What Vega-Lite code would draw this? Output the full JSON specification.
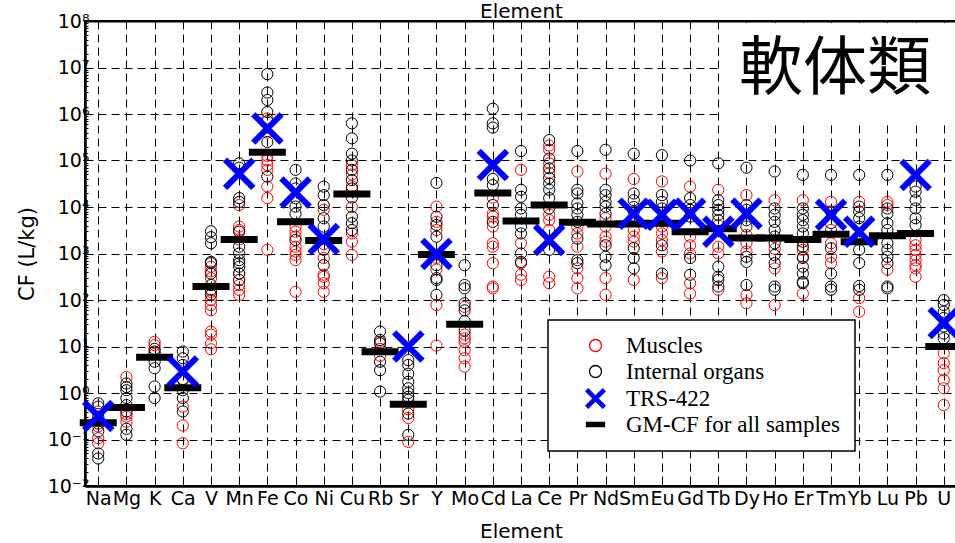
{
  "$schema": "https://vega.github.io/schema/vega-lite/v6.json",
  "width": 872,
  "height": 465,
  "autosize": {"type": "none"},
  "padding": {"left": 85, "top": 21, "right": 0, "bottom": 57},
  "background": "white",
  "config": {
    "view": {"stroke": "black", "strokeWidth": 2},
    "font": "DejaVu Sans",
    "axis": {"labelFont": "DejaVu Sans", "titleFont": "DejaVu Sans", "labelColor": "black", "titleColor": "black", "tickColor": "black", "domainColor": "black"},
    "legend": {
      "orient": "none", "legendX": 463, "legendY": 299,
      "strokeColor": "black", "fillColor": "white", "strokeWidth": 1.5,
      "padding": 14, "labelFont": "Liberation Serif", "labelFontSize": 23, "labelColor": "black",
      "symbolSize": 144, "symbolStrokeWidth": 1.3, "rowPadding": 2, "labelOffset": 19, "symbolOffset": 22, "labelLimit": 400
    }
  },
  "datasets": {
    "box": [{"a": "Tb", "b": "U", "lo": 640000, "hi": 100000000}],
    "ann": [{"e": "Tm", "v": 9000000, "t": "軟体類"}],
    "pts": [
      {"e":"Na","s":"M","v":0.19},{"e":"Na","s":"M","v":0.107},{"e":"Na","s":"M","v":0.083},{"e":"Na","s":"M","v":0.25},{"e":"Na","s":"M","v":0.4},
      {"e":"Na","s":"O","v":0.6},{"e":"Na","s":"O","v":0.51},{"e":"Na","s":"O","v":0.31},{"e":"Na","s":"O","v":0.15},{"e":"Na","s":"O","v":0.05},{"e":"Na","s":"O","v":0.039},{"e":"Na","s":"O","v":0.22},
      {"e":"Mg","s":"M","v":2.2},{"e":"Mg","s":"M","v":0.31},{"e":"Mg","s":"M","v":0.24},{"e":"Mg","s":"M","v":0.35},
      {"e":"Mg","s":"O","v":1.6},{"e":"Mg","s":"O","v":1.15},{"e":"Mg","s":"O","v":0.78},{"e":"Mg","s":"O","v":0.55},{"e":"Mg","s":"O","v":0.4},{"e":"Mg","s":"O","v":0.17},{"e":"Mg","s":"O","v":0.126},{"e":"Mg","s":"O","v":1.35},
      {"e":"K","s":"M","v":12.6},{"e":"K","s":"M","v":10.7},{"e":"K","s":"M","v":7},
      {"e":"K","s":"O","v":8.9},{"e":"K","s":"O","v":7.8},{"e":"K","s":"O","v":4.7},{"e":"K","s":"O","v":3.4},{"e":"K","s":"O","v":1.38},{"e":"K","s":"O","v":0.78},
      {"e":"Ca","s":"M","v":1.9},{"e":"Ca","s":"M","v":0.51},{"e":"Ca","s":"M","v":0.2},{"e":"Ca","s":"M","v":0.083},
      {"e":"Ca","s":"O","v":7.8},{"e":"Ca","s":"O","v":5.6},{"e":"Ca","s":"O","v":4},{"e":"Ca","s":"O","v":1.15},{"e":"Ca","s":"O","v":0.78},{"e":"Ca","s":"O","v":0.4},{"e":"Ca","s":"O","v":2},
      {"e":"V","s":"M","v":520},{"e":"V","s":"M","v":410},{"e":"V","s":"M","v":295},{"e":"V","s":"M","v":150},{"e":"V","s":"M","v":100},{"e":"V","s":"M","v":78},{"e":"V","s":"M","v":60},{"e":"V","s":"M","v":21},{"e":"V","s":"M","v":18},{"e":"V","s":"M","v":11.7},{"e":"V","s":"M","v":8.7},
      {"e":"V","s":"O","v":3000},{"e":"V","s":"O","v":2240},{"e":"V","s":"O","v":1660},{"e":"V","s":"O","v":660},{"e":"V","s":"O","v":620},{"e":"V","s":"O","v":370},{"e":"V","s":"O","v":210},{"e":"V","s":"O","v":166},{"e":"V","s":"O","v":129},
      {"e":"Mn","s":"M","v":11000},{"e":"Mn","s":"M","v":3800},{"e":"Mn","s":"M","v":3200},{"e":"Mn","s":"M","v":370},{"e":"Mn","s":"M","v":210},{"e":"Mn","s":"M","v":166},{"e":"Mn","s":"M","v":129},{"e":"Mn","s":"M","v":2000},
      {"e":"Mn","s":"O","v":87000},{"e":"Mn","s":"O","v":70000},{"e":"Mn","s":"O","v":15500},{"e":"Mn","s":"O","v":12900},{"e":"Mn","s":"O","v":2950},{"e":"Mn","s":"O","v":1400},{"e":"Mn","s":"O","v":1000},{"e":"Mn","s":"O","v":720},{"e":"Mn","s":"O","v":520},{"e":"Mn","s":"O","v":370},{"e":"Mn","s":"O","v":270},{"e":"Mn","s":"O","v":620},
      {"e":"Fe","s":"M","v":800000},{"e":"Fe","s":"M","v":400000},{"e":"Fe","s":"M","v":100000},{"e":"Fe","s":"M","v":80000},{"e":"Fe","s":"M","v":63000},{"e":"Fe","s":"M","v":27500},{"e":"Fe","s":"M","v":15500},{"e":"Fe","s":"M","v":1200},{"e":"Fe","s":"M","v":126000},
      {"e":"Fe","s":"O","v":7200000},{"e":"Fe","s":"O","v":2900000},{"e":"Fe","s":"O","v":2000000},{"e":"Fe","s":"O","v":1100000},{"e":"Fe","s":"O","v":700000},{"e":"Fe","s":"O","v":250000},{"e":"Fe","s":"O","v":45000},
      {"e":"Co","s":"M","v":3800},{"e":"Co","s":"M","v":2950},{"e":"Co","s":"M","v":2300},{"e":"Co","s":"M","v":1400},{"e":"Co","s":"M","v":930},{"e":"Co","s":"M","v":720},{"e":"Co","s":"M","v":150},{"e":"Co","s":"M","v":1100},
      {"e":"Co","s":"O","v":63000},{"e":"Co","s":"O","v":32000},{"e":"Co","s":"O","v":25000},{"e":"Co","s":"O","v":15500},{"e":"Co","s":"O","v":10200},{"e":"Co","s":"O","v":7200},{"e":"Co","s":"O","v":1950},
      {"e":"Ni","s":"M","v":8700},{"e":"Ni","s":"M","v":800},{"e":"Ni","s":"M","v":316},{"e":"Ni","s":"M","v":230},{"e":"Ni","s":"M","v":150},{"e":"Ni","s":"M","v":350},{"e":"Ni","s":"M","v":1600},
      {"e":"Ni","s":"O","v":27500},{"e":"Ni","s":"O","v":18000},{"e":"Ni","s":"O","v":11000},{"e":"Ni","s":"O","v":5750},{"e":"Ni","s":"O","v":3800},{"e":"Ni","s":"O","v":1200},{"e":"Ni","s":"O","v":560},
      {"e":"Cu","s":"M","v":80000},{"e":"Cu","s":"M","v":50000},{"e":"Cu","s":"M","v":28000},{"e":"Cu","s":"M","v":2700},{"e":"Cu","s":"M","v":1800},{"e":"Cu","s":"M","v":930},{"e":"Cu","s":"M","v":10000},
      {"e":"Cu","s":"O","v":630000},{"e":"Cu","s":"O","v":300000},{"e":"Cu","s":"O","v":140000},{"e":"Cu","s":"O","v":100000},{"e":"Cu","s":"O","v":63000},{"e":"Cu","s":"O","v":38000},{"e":"Cu","s":"O","v":6200},{"e":"Cu","s":"O","v":4500},{"e":"Cu","s":"O","v":3200},{"e":"Cu","s":"O","v":25000},{"e":"Cu","s":"O","v":16000},
      {"e":"Rb","s":"M","v":12.6},{"e":"Rb","s":"M","v":8.9},{"e":"Rb","s":"M","v":6.3},
      {"e":"Rb","s":"O","v":21},{"e":"Rb","s":"O","v":13.8},{"e":"Rb","s":"O","v":11.7},{"e":"Rb","s":"O","v":4.7},{"e":"Rb","s":"O","v":3.1},{"e":"Rb","s":"O","v":1.07},
      {"e":"Sr","s":"M","v":0.45},{"e":"Sr","s":"M","v":0.29},{"e":"Sr","s":"M","v":0.089},
      {"e":"Sr","s":"O","v":5.1},{"e":"Sr","s":"O","v":4},{"e":"Sr","s":"O","v":2.6},{"e":"Sr","s":"O","v":1.74},{"e":"Sr","s":"O","v":1.26},{"e":"Sr","s":"O","v":1},{"e":"Sr","s":"O","v":0.83},{"e":"Sr","s":"O","v":0.71},{"e":"Sr","s":"O","v":0.36},{"e":"Sr","s":"O","v":0.126},
      {"e":"Y","s":"M","v":10200},{"e":"Y","s":"M","v":4800},{"e":"Y","s":"M","v":3200},{"e":"Y","s":"M","v":450},{"e":"Y","s":"M","v":78},{"e":"Y","s":"M","v":10.5},{"e":"Y","s":"M","v":800},
      {"e":"Y","s":"O","v":33000},{"e":"Y","s":"O","v":6200},{"e":"Y","s":"O","v":4100},{"e":"Y","s":"O","v":2300},{"e":"Y","s":"O","v":560},{"e":"Y","s":"O","v":295},{"e":"Y","s":"O","v":129},{"e":"Y","s":"O","v":270},
      {"e":"Mo","s":"M","v":71},{"e":"Mo","s":"M","v":18},{"e":"Mo","s":"M","v":15},{"e":"Mo","s":"M","v":12.6},{"e":"Mo","s":"M","v":8.3},{"e":"Mo","s":"M","v":5.6},{"e":"Mo","s":"M","v":3.7},
      {"e":"Mo","s":"O","v":560},{"e":"Mo","s":"O","v":210},{"e":"Mo","s":"O","v":178},{"e":"Mo","s":"O","v":85},{"e":"Mo","s":"O","v":60},{"e":"Mo","s":"O","v":22},{"e":"Mo","s":"O","v":35},
      {"e":"Cd","s":"M","v":7200},{"e":"Cd","s":"M","v":6200},{"e":"Cd","s":"M","v":3800},{"e":"Cd","s":"M","v":1660},{"e":"Cd","s":"M","v":1400},{"e":"Cd","s":"M","v":620},{"e":"Cd","s":"M","v":195},{"e":"Cd","s":"M","v":178},{"e":"Cd","s":"M","v":16000},
      {"e":"Cd","s":"O","v":1300000},{"e":"Cd","s":"O","v":630000},{"e":"Cd","s":"O","v":510000},{"e":"Cd","s":"O","v":29500},{"e":"Cd","s":"O","v":11000},{"e":"Cd","s":"O","v":4800},{"e":"Cd","s":"O","v":40000},
      {"e":"La","s":"M","v":63000},{"e":"La","s":"M","v":1660},{"e":"La","s":"M","v":620},{"e":"La","s":"M","v":350},{"e":"La","s":"M","v":270},
      {"e":"La","s":"O","v":160000},{"e":"La","s":"O","v":23500},{"e":"La","s":"O","v":16600},{"e":"La","s":"O","v":9300},{"e":"La","s":"O","v":6800},{"e":"La","s":"O","v":3800},{"e":"La","s":"O","v":2700},{"e":"La","s":"O","v":1000},{"e":"La","s":"O","v":660},
      {"e":"Ce","s":"M","v":210000},{"e":"Ce","s":"M","v":170000},{"e":"Ce","s":"M","v":87000},{"e":"Ce","s":"M","v":54000},{"e":"Ce","s":"M","v":6800},{"e":"Ce","s":"M","v":5200},{"e":"Ce","s":"M","v":3200},{"e":"Ce","s":"M","v":316},{"e":"Ce","s":"M","v":230},
      {"e":"Ce","s":"O","v":275000},{"e":"Ce","s":"O","v":110000},{"e":"Ce","s":"O","v":68000},{"e":"Ce","s":"O","v":42000},{"e":"Ce","s":"O","v":32000},{"e":"Ce","s":"O","v":23500},{"e":"Ce","s":"O","v":15500},{"e":"Ce","s":"O","v":9300},{"e":"Ce","s":"O","v":1200},
      {"e":"Pr","s":"M","v":58000},{"e":"Pr","s":"M","v":3800},{"e":"Pr","s":"M","v":2700},{"e":"Pr","s":"M","v":1400},{"e":"Pr","s":"M","v":480},{"e":"Pr","s":"M","v":295},{"e":"Pr","s":"M","v":178},
      {"e":"Pr","s":"O","v":160000},{"e":"Pr","s":"O","v":23500},{"e":"Pr","s":"O","v":19500},{"e":"Pr","s":"O","v":12000},{"e":"Pr","s":"O","v":9300},{"e":"Pr","s":"O","v":6800},{"e":"Pr","s":"O","v":4800},{"e":"Pr","s":"O","v":2100},{"e":"Pr","s":"O","v":720},{"e":"Pr","s":"O","v":620},
      {"e":"Nd","s":"M","v":52000},{"e":"Nd","s":"M","v":5750},{"e":"Nd","s":"M","v":3800},{"e":"Nd","s":"M","v":2300},{"e":"Nd","s":"M","v":1800},{"e":"Nd","s":"M","v":295},{"e":"Nd","s":"M","v":129},
      {"e":"Nd","s":"O","v":170000},{"e":"Nd","s":"O","v":23500},{"e":"Nd","s":"O","v":18000},{"e":"Nd","s":"O","v":12900},{"e":"Nd","s":"O","v":10200},{"e":"Nd","s":"O","v":7200},{"e":"Nd","s":"O","v":1500},{"e":"Nd","s":"O","v":850},{"e":"Nd","s":"O","v":560},
      {"e":"Sm","s":"M","v":40000},{"e":"Sm","s":"M","v":3200},{"e":"Sm","s":"M","v":2300},{"e":"Sm","s":"M","v":1800},{"e":"Sm","s":"M","v":270},{"e":"Sm","s":"M","v":5000},
      {"e":"Sm","s":"O","v":140000},{"e":"Sm","s":"O","v":19500},{"e":"Sm","s":"O","v":14000},{"e":"Sm","s":"O","v":8000},{"e":"Sm","s":"O","v":1300},{"e":"Sm","s":"O","v":800},{"e":"Sm","s":"O","v":480},{"e":"Sm","s":"O","v":10000},
      {"e":"Eu","s":"M","v":35500},{"e":"Eu","s":"M","v":3800},{"e":"Eu","s":"M","v":2700},{"e":"Eu","s":"M","v":1950},{"e":"Eu","s":"M","v":295},{"e":"Eu","s":"M","v":1100},
      {"e":"Eu","s":"O","v":130000},{"e":"Eu","s":"O","v":18000},{"e":"Eu","s":"O","v":12900},{"e":"Eu","s":"O","v":9300},{"e":"Eu","s":"O","v":1500},{"e":"Eu","s":"O","v":370},{"e":"Eu","s":"O","v":5000},
      {"e":"Gd","s":"M","v":27500},{"e":"Gd","s":"M","v":2300},{"e":"Gd","s":"M","v":1500},{"e":"Gd","s":"M","v":1000},{"e":"Gd","s":"M","v":230},{"e":"Gd","s":"M","v":138},
      {"e":"Gd","s":"O","v":100000},{"e":"Gd","s":"O","v":15500},{"e":"Gd","s":"O","v":11000},{"e":"Gd","s":"O","v":8700},{"e":"Gd","s":"O","v":6200},{"e":"Gd","s":"O","v":800},{"e":"Gd","s":"O","v":350},
      {"e":"Tb","s":"M","v":23500},{"e":"Tb","s":"M","v":1400},{"e":"Tb","s":"M","v":1000},{"e":"Tb","s":"M","v":166},{"e":"Tb","s":"M","v":4000},
      {"e":"Tb","s":"O","v":87000},{"e":"Tb","s":"O","v":14000},{"e":"Tb","s":"O","v":11000},{"e":"Tb","s":"O","v":8700},{"e":"Tb","s":"O","v":6800},{"e":"Tb","s":"O","v":5200},{"e":"Tb","s":"O","v":520},{"e":"Tb","s":"O","v":316},{"e":"Tb","s":"O","v":195},{"e":"Tb","s":"O","v":270},
      {"e":"Dy","s":"M","v":18000},{"e":"Dy","s":"M","v":1660},{"e":"Dy","s":"M","v":1100},{"e":"Dy","s":"M","v":129},{"e":"Dy","s":"M","v":85},{"e":"Dy","s":"M","v":2500},
      {"e":"Dy","s":"O","v":70000},{"e":"Dy","s":"O","v":11000},{"e":"Dy","s":"O","v":8700},{"e":"Dy","s":"O","v":5200},{"e":"Dy","s":"O","v":3800},{"e":"Dy","s":"O","v":850},{"e":"Dy","s":"O","v":660},{"e":"Dy","s":"O","v":210},
      {"e":"Ho","s":"M","v":14000},{"e":"Ho","s":"M","v":480},{"e":"Ho","s":"M","v":78},{"e":"Ho","s":"M","v":1260},
      {"e":"Ho","s":"O","v":58000},{"e":"Ho","s":"O","v":9300},{"e":"Ho","s":"O","v":6800},{"e":"Ho","s":"O","v":4800},{"e":"Ho","s":"O","v":3200},{"e":"Ho","s":"O","v":2300},{"e":"Ho","s":"O","v":1660},{"e":"Ho","s":"O","v":930},{"e":"Ho","s":"O","v":620},{"e":"Ho","s":"O","v":195},{"e":"Ho","s":"O","v":166},
      {"e":"Er","s":"M","v":14000},{"e":"Er","s":"M","v":1200},{"e":"Er","s":"M","v":850},{"e":"Er","s":"M","v":138},
      {"e":"Er","s":"O","v":49000},{"e":"Er","s":"O","v":9300},{"e":"Er","s":"O","v":6800},{"e":"Er","s":"O","v":5200},{"e":"Er","s":"O","v":3800},{"e":"Er","s":"O","v":2700},{"e":"Er","s":"O","v":1800},{"e":"Er","s":"O","v":1400},{"e":"Er","s":"O","v":800},{"e":"Er","s":"O","v":520},{"e":"Er","s":"O","v":370},{"e":"Er","s":"O","v":245},{"e":"Er","s":"O","v":230},
      {"e":"Tm","s":"M","v":12900},{"e":"Tm","s":"M","v":1660},{"e":"Tm","s":"M","v":850},{"e":"Tm","s":"M","v":620},{"e":"Tm","s":"M","v":3200},
      {"e":"Tm","s":"O","v":49000},{"e":"Tm","s":"O","v":4500},{"e":"Tm","s":"O","v":1300},{"e":"Tm","s":"O","v":370},{"e":"Tm","s":"O","v":195},{"e":"Tm","s":"O","v":166},{"e":"Tm","s":"O","v":8000},
      {"e":"Yb","s":"M","v":12900},{"e":"Yb","s":"M","v":110},{"e":"Yb","s":"M","v":56},{"e":"Yb","s":"M","v":2000},
      {"e":"Yb","s":"O","v":49000},{"e":"Yb","s":"O","v":10200},{"e":"Yb","s":"O","v":8000},{"e":"Yb","s":"O","v":5750},{"e":"Yb","s":"O","v":3800},{"e":"Yb","s":"O","v":1200},{"e":"Yb","s":"O","v":620},{"e":"Yb","s":"O","v":166},{"e":"Yb","s":"O","v":200},
      {"e":"Lu","s":"M","v":12900},{"e":"Lu","s":"M","v":11000},{"e":"Lu","s":"M","v":450},
      {"e":"Lu","s":"O","v":49000},{"e":"Lu","s":"O","v":9300},{"e":"Lu","s":"O","v":7200},{"e":"Lu","s":"O","v":4500},{"e":"Lu","s":"O","v":3200},{"e":"Lu","s":"O","v":1660},{"e":"Lu","s":"O","v":1200},{"e":"Lu","s":"O","v":850},{"e":"Lu","s":"O","v":620},{"e":"Lu","s":"O","v":195},{"e":"Lu","s":"O","v":178},
      {"e":"Pb","s":"M","v":1950},{"e":"Pb","s":"M","v":1500},{"e":"Pb","s":"M","v":1200},{"e":"Pb","s":"M","v":930},{"e":"Pb","s":"M","v":720},{"e":"Pb","s":"M","v":560},{"e":"Pb","s":"M","v":316},{"e":"Pb","s":"M","v":480},
      {"e":"Pb","s":"O","v":27500},{"e":"Pb","s":"O","v":21400},{"e":"Pb","s":"O","v":14000},{"e":"Pb","s":"O","v":9300},{"e":"Pb","s":"O","v":5750},{"e":"Pb","s":"O","v":4100},
      {"e":"U","s":"M","v":7.1},{"e":"U","s":"M","v":4.4},{"e":"U","s":"M","v":3.1},{"e":"U","s":"M","v":1.9},{"e":"U","s":"M","v":1.26},{"e":"U","s":"M","v":0.55},
      {"e":"U","s":"O","v":100},{"e":"U","s":"O","v":78},{"e":"U","s":"O","v":56},{"e":"U","s":"O","v":41},{"e":"U","s":"O","v":27},{"e":"U","s":"O","v":19},{"e":"U","s":"O","v":15}
    ],
    "trs": [
      {"e":"Na","s":"T","v":0.32},{"e":"Ca","s":"T","v":2.9},{"e":"Mn","s":"T","v":52000},{"e":"Fe","s":"T","v":490000},{"e":"Co","s":"T","v":20400},{"e":"Ni","s":"T","v":2040},{"e":"Sr","s":"T","v":10},{"e":"Y","s":"T","v":980},{"e":"Cd","s":"T","v":80000},{"e":"Ce","s":"T","v":1950},{"e":"Sm","s":"T","v":7200},{"e":"Eu","s":"T","v":6800},{"e":"Gd","s":"T","v":7200},{"e":"Tb","s":"T","v":2950},{"e":"Dy","s":"T","v":7200},{"e":"Tm","s":"T","v":6800},{"e":"Yb","s":"T","v":2950},{"e":"Pb","s":"T","v":49000},{"e":"U","s":"T","v":32}
    ],
    "gm": [
      {"e":"Na","s":"G","v":0.23},{"e":"Mg","s":"G","v":0.49},{"e":"K","s":"G","v":5.9},{"e":"Ca","s":"G","v":1.3},{"e":"V","s":"G","v":195},{"e":"Mn","s":"G","v":2000},{"e":"Fe","s":"G","v":150000},{"e":"Co","s":"G","v":4800},{"e":"Ni","s":"G","v":1900},{"e":"Cu","s":"G","v":19000},{"e":"Rb","s":"G","v":7.7},{"e":"Sr","s":"G","v":0.57},{"e":"Y","s":"G","v":950},{"e":"Mo","s":"G","v":30},{"e":"Cd","s":"G","v":20000},{"e":"La","s":"G","v":5000},{"e":"Ce","s":"G","v":11000},{"e":"Pr","s":"G","v":4700},{"e":"Nd","s":"G","v":4300},{"e":"Sm","s":"G","v":4300},{"e":"Eu","s":"G","v":4500},{"e":"Gd","s":"G","v":2950},{"e":"Tb","s":"G","v":3400},{"e":"Dy","s":"G","v":2150},{"e":"Ho","s":"G","v":2150},{"e":"Er","s":"G","v":2000},{"e":"Tm","s":"G","v":2600},{"e":"Yb","s":"G","v":1800},{"e":"Lu","s":"G","v":2400},{"e":"Pb","s":"G","v":2700},{"e":"U","s":"G","v":10}
    ]
  },
  "resolve": {"axis": {"x": "independent", "y": "independent"}},
  "layer": [
    {
      "data": {"name": "box"},
      "mark": {"type": "rect", "fill": "white", "xOffset": 1.5, "x2Offset": 20, "y2Offset": 2},
      "encoding": {
        "x": {"field": "a", "type": "nominal", "scale": {"type": "point", "padding": 0.47, "domain": ["Na","Mg","K","Ca","V","Mn","Fe","Co","Ni","Cu","Rb","Sr","Y","Mo","Cd","La","Ce","Pr","Nd","Sm","Eu","Gd","Tb","Dy","Ho","Er","Tm","Yb","Lu","Pb","U"]}, "axis": null},
        "x2": {"field": "b"},
        "y": {"field": "lo", "type": "quantitative", "scale": {"type": "log", "domain": [0.01, 100000000], "nice": false},
          "axis": {"orient": "left", "title": "CF (L/kg)\u00a0\u00a0\u00a0\u00a0\u00a0\u00a0",
            "values": [0.01,0.1,1,10,100,1000,10000,100000,1000000,10000000,100000000],
            "labelExpr": "'10' + (datum.value < 0.5 ? '⁻' : '') + substring('⁰¹²³⁴⁵⁶⁷⁸⁹', abs(round(log(datum.value)/LN10)), abs(round(log(datum.value)/LN10)) + 1)",
            "grid": true, "gridColor": "black", "gridDash": [8, 5], "gridWidth": 1,
            "tickSize": -7, "domainWidth": 2.5, "labelFontSize": 19, "labelPadding": 3, "labelOverlap": false,
            "titleFontSize": 21, "titleFontWeight": "normal", "titlePadding": 10}},
        "y2": {"field": "hi"}
      }
    },
    {
      "data": {"name": "pts"},
      "mark": {"type": "point", "filled": true, "size": 125, "strokeWidth": 1, "opacity": 1},
      "encoding": {
        "x": {"field": "e", "type": "nominal", "sort": null,
          "axis": {"orient": "bottom", "title": "Element", "grid": true, "gridColor": "black", "gridDash": [8, 5], "gridWidth": 1, "tickSize": -6, "domainWidth": 2.5, "labelFontSize": 19, "labelAngle": 0, "labelPadding": 9, "labelOverlap": false, "titleFontSize": 20, "titleFontWeight": "normal", "titlePadding": 13}},
        "y": {"field": "v", "type": "quantitative",
          "axis": {"orient": "left", "title": null, "labels": false, "grid": false, "domain": false, "tickSize": -3, "tickWidth": 1,
            "values": [0.02,0.03,0.04,0.05,0.06,0.07,0.08,0.09,0.2,0.3,0.4,0.5,0.6,0.7,0.8,0.9,2,3,4,5,6,7,8,9,20,30,40,50,60,70,80,90,200,300,400,500,600,700,800,900,2000,3000,4000,5000,6000,7000,8000,9000,20000,30000,40000,50000,60000,70000,80000,90000,200000,300000,400000,500000,600000,700000,800000,900000,2000000,3000000,4000000,5000000,6000000,7000000,8000000,9000000,20000000,30000000,40000000,50000000,60000000,70000000,80000000,90000000]}},
        "shape": {"field": "s", "type": "nominal", "scale": {"domain": ["M","O","T","G"], "range": ["circle","circle","M-1.2,-1.6L0,-0.4L1.2,-1.6L1.6,-1.2L0.4,0L1.6,1.2L1.2,1.6L0,0.4L-1.2,1.6L-1.6,1.2L-0.4,0L-1.6,-1.2Z","M-1.5,-0.36L1.5,-0.36L1.5,0.36L-1.5,0.36Z"]},
          "legend": {"title": null, "labelExpr": "datum.label == 'M' ? 'Muscles' : datum.label == 'O' ? 'Internal organs' : datum.label == 'T' ? 'TRS-422' : 'GM-CF for all samples'"}},
        "fill": {"field": "s", "type": "nominal", "scale": {"domain": ["M","O","T","G"], "range": ["transparent","transparent","#0000ff","#000000"]},
          "legend": {"title": null, "labelExpr": "datum.label == 'M' ? 'Muscles' : datum.label == 'O' ? 'Internal organs' : datum.label == 'T' ? 'TRS-422' : 'GM-CF for all samples'"}},
        "stroke": {"field": "s", "type": "nominal", "scale": {"domain": ["M","O","T","G"], "range": ["#ff0000","#000000","#0000ff","#000000"]},
          "legend": {"title": null, "labelExpr": "datum.label == 'M' ? 'Muscles' : datum.label == 'O' ? 'Internal organs' : datum.label == 'T' ? 'TRS-422' : 'GM-CF for all samples'"}}
      }
    },
    {
      "data": {"name": "gm"},
      "mark": {"type": "tick", "orient": "horizontal", "size": 37, "thickness": 7, "opacity": 1},
      "encoding": {
        "x": {"field": "e", "type": "nominal", "sort": null, "axis": null},
        "y": {"field": "v", "type": "quantitative", "axis": null},
        "fill": {"field": "s", "type": "nominal"}
      }
    },
    {
      "data": {"name": "trs"},
      "mark": {"type": "point", "filled": true, "size": 400, "strokeWidth": 0.5, "opacity": 1},
      "encoding": {
        "x": {"field": "e", "type": "nominal", "sort": null,
          "axis": {"orient": "top", "title": "Element", "labels": false, "grid": false, "tickSize": -6, "domainWidth": 2, "titleFontSize": 20, "titleFontWeight": "normal", "titlePadding": -1}},
        "y": {"field": "v", "type": "quantitative", "axis": null},
        "shape": {"field": "s", "type": "nominal"},
        "fill": {"field": "s", "type": "nominal"},
        "stroke": {"field": "s", "type": "nominal"}
      }
    },
    {
      "data": {"name": "ann"},
      "mark": {"type": "text", "font": "Noto Sans CJK JP", "fontSize": 64, "align": "center", "baseline": "middle", "dx": 4, "color": "black"},
      "encoding": {
        "x": {"field": "e", "type": "nominal", "sort": null, "axis": null},
        "y": {"field": "v", "type": "quantitative", "axis": null},
        "text": {"field": "t"}
      }
    }
  ]
}
